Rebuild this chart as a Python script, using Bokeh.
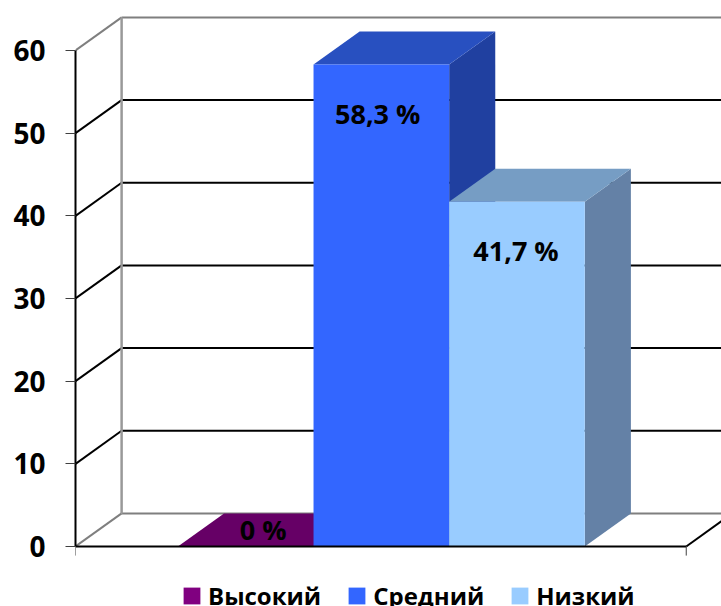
from bokeh.plotting import figure
from bokeh.embed import file_html
from bokeh.resources import INLINE
from bokeh.models import Legend, LegendItem, FixedTicker, Range1d, ColumnDataSource
from bokeh.core.properties import value

categories = ["Высокий", "Средний", "Низкий"]
values = [0.0, 58.3, 41.7]
labels = ["0 %", "58,3 %", "41,7 %"]
y_ticks = [0, 10, 20, 30, 40, 50, 60]
front_colors = ["#800080", "#3366FF", "#99CCFF"]
top_colors = ["#660066", "#2850C0", "#769DC4"]
side_colors = ["#4D004D", "#2040A0", "#6481A6"]

# 3D projection of the chart, in data units
DX, DY = 0.34, 4.0
FLOOR_L, FLOOR_R = -1.263, 3.24
FONT = "Open Sans"
W = 1.0
SHIFT = -0.008
Y_MIN = -7.26   # room under the floor for the legend (frame runs to the window's bottom)

p = figure(width=721, height=606, output_backend="svg", toolbar_location=None,
           x_range=Range1d(FLOOR_L, 3.5), y_range=Range1d(Y_MIN, 65.08),
           x_axis_location=None,
           min_border_left=75, min_border_right=0, min_border_top=8, min_border_bottom=0,
           outline_line_color=None)
p.xgrid.visible = False
p.ygrid.visible = False

# y axis
ya = p.yaxis[0]
ya.ticker = FixedTicker(ticks=y_ticks)
ya.bounds = (0, 60)
ya.axis_line_color = "#000000"
ya.axis_line_width = 2
ya.major_tick_line_color = "#404040"
ya.major_tick_line_width = 1
ya.major_tick_out = 10
ya.major_tick_in = 0
ya.minor_tick_line_color = None
ya.major_label_text_font = FONT
ya.major_label_text_font_style = "bold"
ya.major_label_text_font_size = "28px"
ya.major_label_text_color = "#000000"
ya.major_label_standoff = 20

# back wall + side wall
for t in y_ticks:
    col = "#000000" if 0 < t < 60 else "#7F7F7F"
    p.line([FLOOR_L + DX, 3.5], [t + DY, t + DY], line_color=col, line_width=2)
    p.line([FLOOR_L, FLOOR_L + DX], [t, t + DY], line_color=col, line_width=2)
p.line([FLOOR_L + DX, FLOOR_L + DX], [DY, 60 + DY], line_color="#999999", line_width=2.5)
p.line([FLOOR_R, FLOOR_R + DX], [0, DY], line_color="#000000", line_width=2)

# bars
items = []
for i, (c, v) in enumerate(zip(categories, values)):
    l, r = i + SHIFT - W / 2, i + SHIFT + W / 2
    p.patch([r, r + DX, r + DX, r], [0, DY, v + DY, v], fill_color=side_colors[i], line_color=None)
    p.patch([l, r, r + DX, l + DX], [v, v, v + DY, v + DY], fill_color=top_colors[i], line_color=None)
    q = p.quad(left=[l], right=[r], bottom=[0], top=[v], fill_color=front_colors[i], line_color=None)
    items.append(LegendItem(label=c, renderers=[q]))

# floor's front edge and its end ticks
p.line([FLOOR_L, FLOOR_R], [0, 0], line_color="#000000", line_width=2)
p.segment([FLOOR_L, FLOOR_R], [0, 0], [FLOOR_L, FLOOR_R], [-1.1, -1.1], line_color="#404040", line_width=1)

# value labels
nudge = [0.12, -0.035, -0.015]
src = ColumnDataSource(dict(
    x=[i + n for i, n in enumerate(nudge)],
    y=[v - 5.9 if v > 0 else v + 2.1 for v in values],
    t=labels))
p.text("x", "y", text="t", source=src, text_align="center", text_baseline="middle",
       text_font=value(FONT), text_font_style="bold", text_font_size="27px", text_color="#000000")

legend = Legend(items=items, orientation="horizontal", location=(106, -6),
                glyph_width=21, glyph_height=21, label_standoff=6, spacing=25,
                padding=0, margin=0, border_line_color=None, background_fill_color=None,
                background_fill_alpha=0,
                label_text_font=FONT, label_text_font_style="bold",
                label_text_font_size="24px", label_text_color="#000000")
p.add_layout(legend, "center")

open("out.html", "w").write(file_html(p, INLINE))
